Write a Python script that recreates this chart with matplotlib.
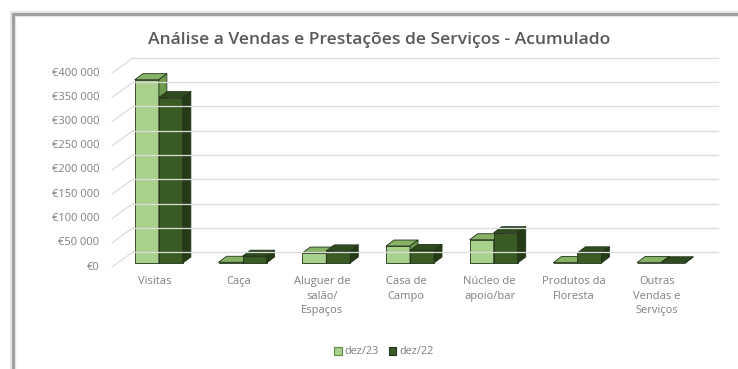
import matplotlib.pyplot as plt
from matplotlib.patches import Polygon, Rectangle, Patch
from matplotlib.lines import Line2D

plt.rcParams['font.family'] = ['Open Sans', 'DejaVu Sans']

# === Data (accumulated sales per category) ===
categories = ["Visitas", "Caça", "Aluguer de\nsalão/\nEspaços", "Casa de\nCampo",
              "Núcleo de\napoio/bar", "Produtos da\nFloresta", "Outras\nVendas e\nServiços"]
dez23 = [378000, 1500, 20500, 35000, 48000, 1000, 1000]
dez22 = [341000, 14000, 25000, 26000, 62500, 21000, 500]
series_names = ["dez/23", "dez/22"]
yticks = [0, 50000, 100000, 150000, 200000, 250000, 300000, 350000, 400000]

# face colours: front, top, side
light = ("#a9d18e", "#86b266", "#6e9a4e")
dark = ("#3b5b24", "#2f4a1c", "#253b15")
edge = "#22331a"
grey_txt = "#7f7f7f"

W, H = 738, 369
fig = plt.figure(figsize=(W / 100, H / 100), dpi=100)
ax = fig.add_axes([117 / W, 106 / H, 586 / W, 194 / H])
ax.set_xlim(-0.5, 6.5)
ax.set_ylim(0, 400000)
ax.axis('off')

# data units per pixel, used for the fake 3D depth
px_x = 7 / 586
px_y = 400000 / 194


def xpx(p):
    return -0.5 + (p - 117) * px_x


# back wall gridlines + slanted side-wall lines
for t in yticks:
    ax.add_line(Line2D([xpx(133), xpx(718)], [t + 11 * px_y] * 2,
                       color="#dcdcdc", lw=0.9, clip_on=False))
    ax.add_line(Line2D([xpx(112), xpx(133)], [t - 4 * px_y, t + 11 * px_y],
                       color="#dcdcdc", lw=0.9, clip_on=False))
    ax.text(xpx(99), t - 4 * px_y, "€" + f"{t:,}".replace(",", " "),
            ha="right", va="center", fontsize=8, color=grey_txt)


def face(pts, color):
    ax.add_patch(Polygon(pts, closed=True, fc=color, ec=edge, lw=0.6,
                         clip_on=False, joinstyle="round"))


bw = 24 * px_x
dx, dy = 8 * px_x, 6 * px_y
for i in range(len(categories)):
    for k, (vals, cols) in enumerate([(dez23, light), (dez22, dark)]):
        h = vals[i]
        x0 = i - bw + k * bw
        face([(x0, 0), (x0 + bw, 0), (x0 + bw, h), (x0, h)], cols[0])
        face([(x0, h), (x0 + bw, h), (x0 + bw + dx, h + dy), (x0 + dx, h + dy)], cols[1])
        face([(x0 + bw, 0), (x0 + bw + dx, dy), (x0 + bw + dx, h + dy), (x0 + bw, h)], cols[2])
    ax.text(i - 4 * px_x, -13 * px_y, categories[i], ha="center", va="top",
            fontsize=8, color=grey_txt, linespacing=1.45)

fig.text(379 / W, 1 - 40 / H, "Análise a Vendas e Prestações de Serviços - Acumulado",
         ha="center", va="center", fontsize=12.6, color="#595959", fontweight="semibold")

handles = [Patch(fc=light[0], ec="#5e8a3e", lw=0.8), Patch(fc=dark[0], ec=edge, lw=0.8)]
fig.legend(handles, series_names, loc="center", bbox_to_anchor=(384 / W, 1 - 352 / H),
           ncol=2, frameon=False, fontsize=7.8, labelcolor=grey_txt,
           handlelength=0.7, handleheight=0.7, handletextpad=0.3, columnspacing=0.9)

# chart frame with a soft shadow
for lw, c in [(4.5, "#e6e6e6"), (2.2, "#a0a0a0")]:
    fig.add_artist(Rectangle((13 / W, -0.2), 1.2, 1.2 - 14 / H,
                             transform=fig.transFigure, fill=False, ec=c, lw=lw))

fig.savefig("out.png", dpi=100, facecolor="white")
